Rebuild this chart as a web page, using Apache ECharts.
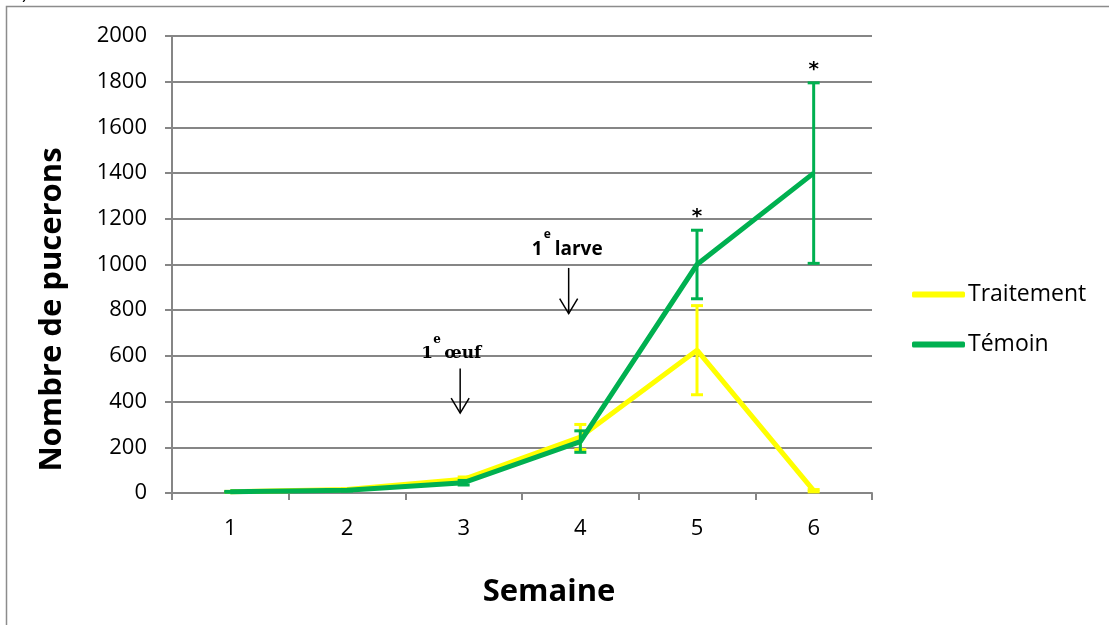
<!DOCTYPE html>
<html>
<head>
<meta charset="utf-8">
<script src="https://cdn.jsdelivr.net/npm/echarts@6/dist/echarts.min.js"></script>
<style>
  html, body { margin: 0; padding: 0; background: #fff; }
  #chart { width: 1109px; height: 625px; }
</style>
</head>
<body>
<div id="chart"></div>
<script>
// Aphid counts per week, treated plants vs. control
const weeks = ['1', '2', '3', '4', '5', '6'];
const yTicks = [0, 200, 400, 600, 800, 1000, 1200, 1400, 1600, 1800, 2000];

const traitement = [5, 15, 60, 245, 625, 10];
const traitementErr = [2, 3, 10, 55, 195, 5];

const temoin = [5, 12, 45, 225, 1000, 1400];
const temoinErr = [2, 3, 10, 47, 150, 395];

// significance marks shown above the control error bars
const signif = ['', '', '', '', '*', '*'];

const YELLOW = '#FFFF00';
const GREEN = '#00B050';
const GRID = '#868686';
const FONT = "'Open Sans', 'Noto Sans', sans-serif";
const SERIF = "'DejaVu Serif', serif";

function errData(vals, errs) {
  return vals.map((v, i) => [i, Math.max(0, v - errs[i]), v + errs[i], signif[i]]);
}

function errorBars(color, withMarks) {
  return function (params, api) {
    const i = api.value(0);
    const lo = api.coord([i, api.value(1)]);
    const hi = api.coord([i, api.value(2)]);
    const half = 6;
    const style = { stroke: color, lineWidth: 3 };
    const children = [
      { type: 'line', shape: { x1: hi[0], y1: hi[1], x2: lo[0], y2: lo[1] }, style },
      { type: 'line', shape: { x1: hi[0] - half, y1: hi[1], x2: hi[0] + half, y2: hi[1] }, style },
      { type: 'line', shape: { x1: lo[0] - half, y1: lo[1], x2: lo[0] + half, y2: lo[1] }, style }
    ];
    const mark = api.value(3);
    if (withMarks && mark) {
      children.push({
        type: 'text',
        style: {
          text: mark, x: hi[0], y: hi[1] - 13,
          align: 'center', verticalAlign: 'middle',
          fontFamily: "'DejaVu Sans', sans-serif", fontWeight: 'bold', fontSize: 20, fill: '#000'
        }
      });
    }
    return { type: 'group', children };
  };
}

const chart = echarts.init(document.getElementById('chart'));

chart.setOption({
  animation: false,
  backgroundColor: '#fff',
  grid: { left: 172, right: 237, top: 36, bottom: 132 },
  legend: {
    orient: 'vertical',
    left: 907,
    top: 278,
    itemWidth: 53,
    itemHeight: 6,
    itemGap: 27,
    icon: 'roundRect',
    data: ['Traitement', 'Témoin'],
    textStyle: { fontFamily: FONT, fontSize: 23, color: '#000', padding: [0, 0, 0, -2] }
  },
  xAxis: {
    type: 'category',
    data: weeks,
    boundaryGap: true,
    name: 'Semaine',
    nameLocation: 'middle',
    nameGap: 84,
    nameTextStyle: { fontFamily: FONT, fontWeight: 'bold', fontSize: 31, color: '#000', padding: [0, 0, 0, 54] },
    axisLine: { lineStyle: { color: GRID, width: 2 } },
    axisTick: { show: true, length: 7, alignWithLabel: false, lineStyle: { color: GRID, width: 2 } },
    axisLabel: { margin: 25, fontFamily: FONT, fontSize: 22, color: '#000' },
    splitLine: { show: false }
  },
  yAxis: {
    type: 'value',
    min: 0,
    max: 2000,
    interval: 200,
    name: 'Nombre de pucerons',
    nameLocation: 'middle',
    nameGap: 104,
    nameTextStyle: { fontFamily: FONT, fontWeight: 'bold', fontSize: 31, color: '#000', padding: [0, 90, 0, 0] },
    axisLine: { show: true, lineStyle: { color: GRID, width: 2 } },
    axisTick: { show: true, length: 7, lineStyle: { color: GRID, width: 2 } },
    axisLabel: {
      margin: 25, fontFamily: FONT, fontSize: 22, color: '#000',
      formatter: v => (yTicks.includes(v) ? String(v) : '')
    },
    splitLine: { show: true, lineStyle: { color: GRID, width: 2 } }
  },
  series: [
    {
      name: 'Traitement',
      type: 'line',
      data: traitement,
      symbol: 'none',
      color: YELLOW,
      lineStyle: { color: YELLOW, width: 5 },
      z: 3
    },
    {
      name: 'TraitementErr',
      type: 'custom',
      data: errData(traitement, traitementErr),
      renderItem: errorBars(YELLOW, false),
      encode: { x: 0, y: [1, 2] },
      z: 4
    },
    {
      name: 'Témoin',
      type: 'line',
      data: temoin,
      symbol: 'none',
      color: GREEN,
      lineStyle: { color: GREEN, width: 5 },
      z: 5
    },
    {
      name: 'TémoinErr',
      type: 'custom',
      data: errData(temoin, temoinErr),
      renderItem: errorBars(GREEN, true),
      encode: { x: 0, y: [1, 2] },
      z: 6
    }
  ]
});

// Stage annotations (first egg, first larva) with downward arrows,
// anchored to data positions on the axes.
function at(idx, value) {
  const i0 = Math.floor(idx);
  const p0 = chart.convertToPixel({ gridIndex: 0 }, [i0, value]);
  const p1 = chart.convertToPixel({ gridIndex: 0 }, [i0 + 1, value]);
  return [p0[0] + (p1[0] - p0[0]) * (idx - i0), p0[1]];
}

const stages = [
  { label: 'œuf', idx: 1.97, top: 545, tip: 350, font: SERIF, size: 17,
    one: [-39, -15], sup: [-27, -29], word: [-16, -15] },
  { label: 'larve', idx: 2.9, top: 985, tip: 785, font: FONT, size: 19,
    one: [-37, -18], sup: [-25, -33], word: [-14, -18] }
];

const graphics = [];
stages.forEach(s => {
  const a = at(s.idx, s.top);
  const b = at(s.idx, s.tip);
  const txt = (text, off, size) => ({
    type: 'text', z: 10,
    style: {
      x: a[0] + off[0], y: a[1] + off[1], text,
      align: 'left', verticalAlign: 'middle',
      fontFamily: s.font, fontWeight: 'bold', fontSize: size, fill: '#000'
    }
  });
  graphics.push(txt('1', s.one, s.size));
  graphics.push(txt('e', s.sup, 12));
  graphics.push(txt(s.label, s.word, s.size));
  graphics.push({
    type: 'polyline', z: 10,
    shape: { points: [[a[0], a[1]], [b[0], b[1]]] },
    style: { stroke: '#000', lineWidth: 1.5, fill: null }
  });
  graphics.push({
    type: 'polyline', z: 10,
    shape: { points: [[b[0] - 9, b[1] - 15], [b[0], b[1]], [b[0] + 9, b[1] - 15]] },
    style: { stroke: '#000', lineWidth: 1.5, fill: null }
  });
});

// page frame
graphics.push({
  type: 'polyline', z: 10,
  shape: { points: [[6.5, 625], [6.5, 6.5], [1109, 6.5]] },
  style: { stroke: '#8c8c8c', lineWidth: 1.5, fill: null }
});
graphics.push({
  type: 'text', z: 10,
  style: { x: 22, y: -15, text: ')', fontFamily: FONT, fontSize: 18, fill: '#000' }
});

chart.setOption({ graphic: graphics });
</script>
</body>
</html>
